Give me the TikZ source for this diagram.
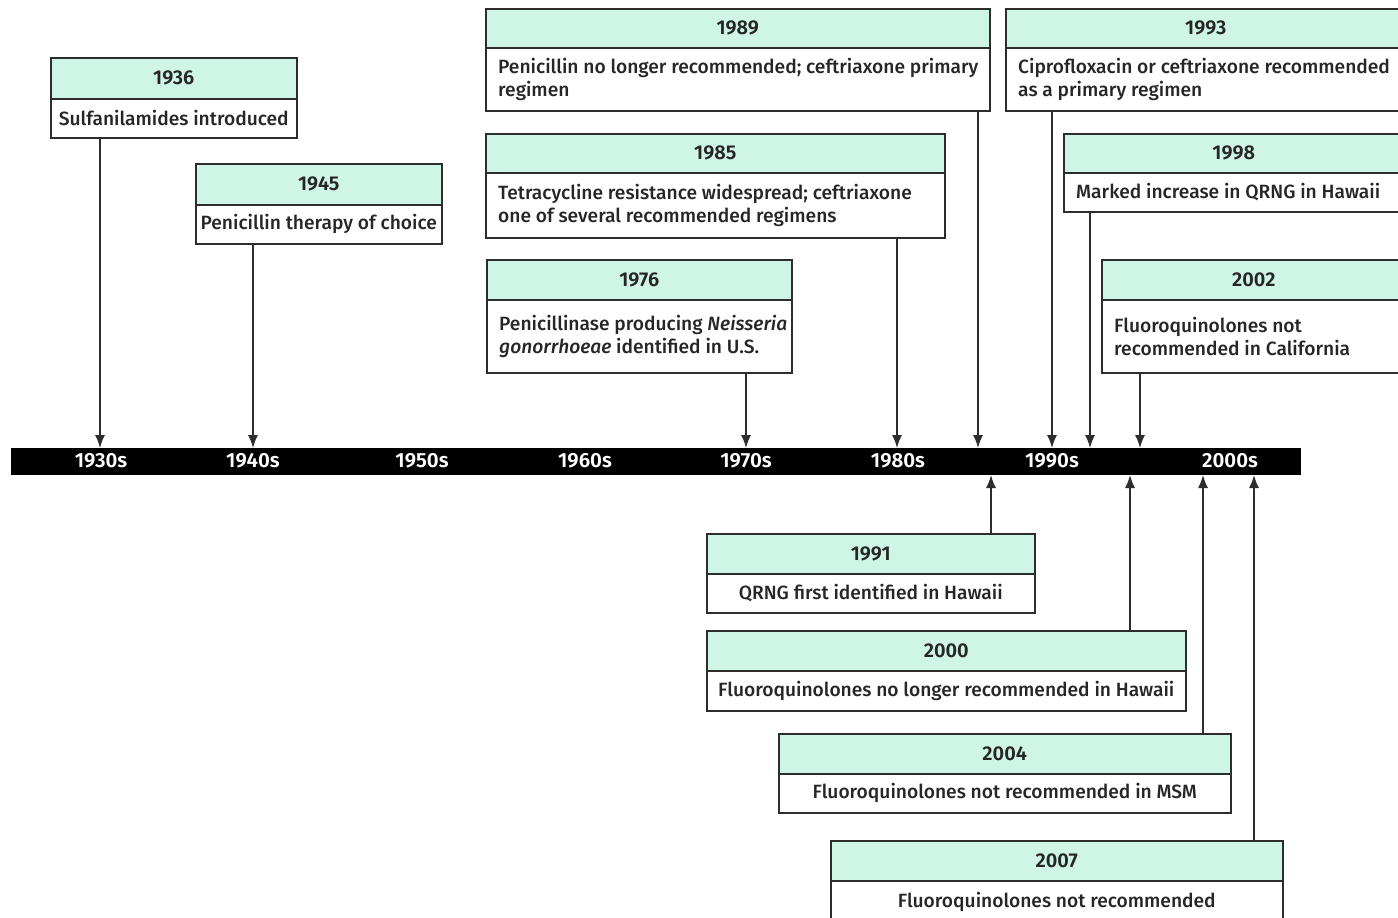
\documentclass[tikz,border=0pt]{standalone}
\usepackage{fontspec}
\setmainfont{Fira Sans}[UprightFont={* Medium}, ItalicFont={* Medium Italic}, BoldFont={* SemiBold}]
\usetikzlibrary{arrows.meta}
\definecolor{mint}{RGB}{207,245,231}
\definecolor{edge}{RGB}{45,45,45}
\tikzset{
  hdr/.style={draw=edge, line width=1.5pt, fill=mint, inner sep=0pt, text=black!85, font=\bfseries\fontsize{20}{22}\selectfont},
  bdy/.style={draw=edge, line width=1.5pt, fill=white, inner sep=0pt},
  txt/.style={inner sep=0pt, text=black!85, font=\fontsize{19.2}{23.5}\selectfont},
  arr/.style={draw=edge, line width=1.5pt, -{Latex[length=13pt,width=10pt]}},
  barlbl/.style={text=white, inner sep=0pt, font=\bfseries\fontsize{20.5}{22}\selectfont},
}
% name, x1, x2, ytop, ydiv, ybot, year
\newcommand\evframe[7]{%
  \node[hdr, anchor=north west, minimum width={#3pt-#2pt}, minimum height={#5pt-#4pt}] (#1h) at (#2,#4) {#7};
  \node[bdy, anchor=north west, minimum width={#3pt-#2pt}, minimum height={#6pt-#5pt}] (#1) at (#2,#5) {};
}
\newcommand\evL[8]{\evframe{#1}{#2}{#3}{#4}{#5}{#6}{#7}%
  \node[txt, anchor=west, align=left, xshift=13pt] (#1t) at (#1.west) {#8};}
\newcommand\evC[8]{\evframe{#1}{#2}{#3}{#4}{#5}{#6}{#7}%
  \node[txt, align=center] (#1t) at (#1.center) {#8};}
\begin{document}
\begin{tikzpicture}[x=1pt,y=-1pt]
\useasboundingbox (0,0) rectangle (1398,918);
\clip (0,0) rectangle (1398,918);
\fill[white] (0,0) rectangle (1398,918);

% timeline bar
\node[fill=black, anchor=north west, minimum width=1290pt, minimum height=27pt, inner sep=0pt] (bar) at (11,448) {};
\node[barlbl] (l1930) at (101,461) {1930s};
\node[barlbl] (l1940) at (253,461) {1940s};
\node[barlbl] (l1950) at (422,461) {1950s};
\node[barlbl] (l1960) at (585,461) {1960s};
\node[barlbl] (l1970) at (746,461) {1970s};
\node[barlbl] (l1980) at (898,461) {1980s};
\node[barlbl] (l1990) at (1052,461) {1990s};
\node[barlbl] (l2000) at (1230,461) {2000s};

% arrow end points on the bar
\coordinate (t1936) at (100,448);
\coordinate (t1945) at (253,448);
\coordinate (t1976) at (746,448);
\coordinate (t1985) at (897,448);
\coordinate (t1989) at (978,448);
\coordinate (t1993) at (1052,448);
\coordinate (t1998) at (1090,448);
\coordinate (t2002) at (1140,448);
\coordinate (u1991) at (991,475);
\coordinate (u2000) at (1130,475);
\coordinate (u2004) at (1203,475);
\coordinate (u2007) at (1254,475);

% boxes above
\evC{b1936}{50}{296}{57}{98}{137}{1936}{Sulfanilamides introduced}
\evC{b1945}{195}{441}{163}{204}{243}{1945}{Penicillin therapy of choice}
\evL{b1989}{485}{989}{8}{47}{110}{1989}{Penicillin no longer recommended; ceftriaxone primary\\regimen}
\evL{b1993}{1005}{1405}{8}{47}{110}{1993}{Ciprofloxacin or ceftriaxone recommended\\as a primary regimen}
\evL{b1985}{485}{944}{133}{172}{237}{1985}{Tetracycline resistance widespread; ceftriaxone\\one of several recommended regimens}
\evL{b1998}{1063}{1403}{133}{172}{211}{1998}{Marked increase in QRNG in Hawaii}
\evL{b1976}{486}{791}{259}{299}{372}{1976}{Penicillinase producing \textit{Neisseria}\\\textit{gonorrhoeae} identified in U.S.}
\evL{b2002}{1101}{1405}{259}{299}{372}{2002}{Fluoroquinolones not\\recommended in California}

% boxes below
\evC{b1991}{706}{1034}{533}{573}{612}{1991}{QRNG first identified in Hawaii}
\evC{b2000}{706}{1185}{630}{670}{710}{2000}{Fluoroquinolones no longer recommended in Hawaii}
\evC{b2004}{778}{1230}{733}{773}{812}{2004}{Fluoroquinolones not recommended in MSM}
\evC{b2007}{830}{1282}{840}{880}{922}{2007}{Fluoroquinolones not recommended}

% arrows down
\draw[arr] (b1936.south -| t1936) -- (t1936);
\draw[arr] (b1945.south -| t1945) -- (t1945);
\draw[arr] (b1976.south -| t1976) -- (t1976);
\draw[arr] (b1985.south -| t1985) -- (t1985);
\draw[arr] (b1989.south -| t1989) -- (t1989);
\draw[arr] (b1993.south -| t1993) -- (t1993);
\draw[arr] (b1998.south -| t1998) -- (t1998);
\draw[arr] (b2002.south -| t2002) -- (t2002);
% arrows up
\draw[arr] (b1991h.north -| u1991) -- (u1991);
\draw[arr] (b2000h.north -| u2000) -- (u2000);
\draw[arr] (b2004h.north -| u2004) -- (u2004);
\draw[arr] (b2007h.north -| u2007) -- (u2007);
\end{tikzpicture}
\end{document}
